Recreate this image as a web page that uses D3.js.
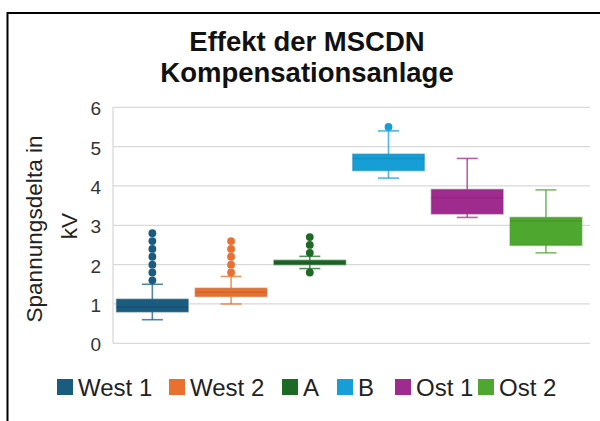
<!DOCTYPE html>
<html><head><meta charset="utf-8">
<script src="https://cdn.jsdelivr.net/npm/d3@7"></script>
<style>html,body{margin:0;padding:0;background:#fff;}svg{display:block;font-family:"Liberation Sans",Arial,sans-serif;}</style>
</head><body>
<script>
const categories = ["West 1","West 2","A","B","Ost 1","Ost 2"];
const colors = ["#1a5c80","#e9712f","#1d6a27","#169fd6","#a02b8f","#4ea72e"];
const whiskerLow  = [0.60, 1.00, 1.90, 4.20, 3.20, 2.30];
const q1          = [0.80, 1.19, 2.00, 4.39, 3.29, 2.49];
const median      = [0.92, 1.30, 2.05, 4.70, 3.70, 3.11];
const q3          = [1.12, 1.40, 2.11, 4.81, 3.91, 3.20];
const whiskerHigh = [1.50, 1.70, 2.21, 5.40, 4.70, 3.90];
const outliers    = [
  [1.6,1.8,2.0,2.2,2.4,2.6,2.8],
  [1.8,2.0,2.2,2.4,2.6],
  [1.8,2.3,2.5,2.7],
  [5.5],
  [],
  []
];
const yTicks = [0,1,2,3,4,5,6];
const titleLines = ["Effekt der MSCDN","Kompensationsanlage"];
const yTitleLines = ["Spannungsdelta in","kV"];

const W=600,H=421;
const svg=d3.select("body").append("svg").attr("width",W).attr("height",H);
svg.append("rect").attr("width",W).attr("height",H).attr("fill","#fff");
// frame (cropped at right and bottom)
svg.append("rect").attr("x",7.5).attr("y",13).attr("width",800).attr("height",600)
  .attr("fill","none").attr("stroke","#000").attr("stroke-width",2);

const y=d3.scaleLinear().domain([0,6]).range([343.3,107.3]);
const x=d3.scaleBand().domain(categories).range([113,585.3]).padding(0);
const gridRight=590;

// gridlines
svg.append("g").selectAll("line").data(yTicks).join("line")
  .attr("x1",113).attr("x2",gridRight).attr("y1",d=>y(d)).attr("y2",d=>y(d))
  .attr("stroke","#d9d9d9").attr("stroke-width",1.3);
svg.append("line").attr("x1",113).attr("x2",113).attr("y1",y(6)).attr("y2",y(0))
  .attr("stroke","#d9d9d9").attr("stroke-width",1.3);

// y axis labels
const yAxis=d3.axisLeft(y).tickValues(yTicks).tickSize(0).tickPadding(0).tickFormat(d3.format("d"));
const ga=svg.append("g").attr("transform","translate(101,1.5)").call(yAxis);
ga.select(".domain").remove();
ga.selectAll("text").attr("font-size",19).attr("fill","#333").attr("font-family","Liberation Sans, Arial, sans-serif");

// y title
const yt=svg.append("text").attr("transform","translate(0,229) rotate(-90)")
  .attr("text-anchor","middle").attr("font-size",22.6).attr("fill","#222");
yt.append("tspan").attr("x",0).attr("y",42).text(yTitleLines[0]);
yt.append("tspan").attr("x",3).attr("y",76.5).text(yTitleLines[1]);

// title
svg.append("text").attr("x",307).attr("y",50.5).attr("text-anchor","middle")
  .attr("font-size",27.5).attr("font-weight","bold").attr("fill","#111").text(titleLines[0]);
svg.append("text").attr("x",307).attr("y",82).attr("text-anchor","middle")
  .attr("font-size",27.5).attr("font-weight","bold").attr("fill","#111").text(titleLines[1]);

// boxes
const bw=x.bandwidth()*0.91, capW=21;
categories.forEach((c,i)=>{
  const cx=x(c)+x.bandwidth()/2, col=colors[i];
  const dk=d3.color(col).darker(0.5);
  const g=svg.append("g");
  // whiskers
  g.append("line").attr("x1",cx).attr("x2",cx).attr("y1",y(whiskerHigh[i])).attr("y2",y(q3[i]))
    .attr("stroke",col).attr("stroke-opacity",0.75).attr("stroke-width",1.6);
  g.append("line").attr("x1",cx).attr("x2",cx).attr("y1",y(whiskerLow[i])).attr("y2",y(q1[i]))
    .attr("stroke",col).attr("stroke-opacity",0.75).attr("stroke-width",1.6);
  [whiskerHigh[i],whiskerLow[i]].forEach(v=>{
    g.append("line").attr("x1",cx-capW/2).attr("x2",cx+capW/2).attr("y1",y(v)).attr("y2",y(v))
      .attr("stroke",col).attr("stroke-opacity",0.75).attr("stroke-width",1.6);
  });
  // box
  g.append("rect").attr("x",cx-bw/2).attr("width",bw).attr("y",y(q3[i])).attr("height",y(q1[i])-y(q3[i]))
    .attr("fill",col).attr("stroke",dk).attr("stroke-opacity",0.45).attr("stroke-width",1.5);
  g.append("line").attr("x1",cx-bw/2).attr("x2",cx+bw/2).attr("y1",y(median[i])).attr("y2",y(median[i]))
    .attr("stroke",dk).attr("stroke-opacity",0.6).attr("stroke-width",1.5);
  // outliers
  g.selectAll("circle").data(outliers[i]).join("circle")
    .attr("cx",cx).attr("cy",d=>y(d)).attr("r",3.9).attr("fill",col);
});

// legend
const legX=[57,169,282,337,395,478];
const lg=svg.append("g");
categories.forEach((c,i)=>{
  lg.append("rect").attr("x",legX[i]).attr("y",379).attr("width",16).attr("height",16).attr("fill",colors[i]);
  lg.append("text").attr("x",legX[i]+21).attr("y",396).attr("font-size",24).attr("fill","#222").text(c);
});
</script>
</body></html>
